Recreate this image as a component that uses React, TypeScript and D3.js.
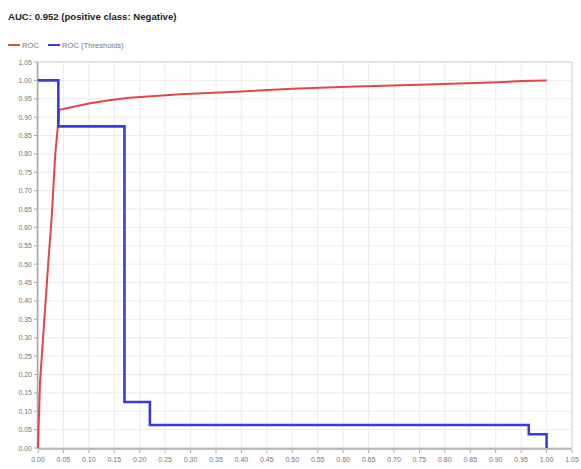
import React from "react";
import * as d3 from "d3";

const rocX = [0, 0.004, 0.008, 0.02, 0.027, 0.034, 0.042, 0.07, 0.1, 0.14, 0.18, 0.28, 0.4, 0.5, 0.61, 0.75, 0.89, 0.95, 1.0];
const rocY = [0, 0.18, 0.26, 0.5, 0.63, 0.8, 0.92, 0.928, 0.937, 0.946, 0.953, 0.962, 0.97, 0.977, 0.983, 0.988, 0.994, 0.998, 1.0];
const thrX = [0, 0.04, 0.17, 0.22, 0.965, 1.0];
const thrY = [1.0, 0.875, 0.125, 0.0625, 0.0375, 0];
const seriesNames = ["ROC", "ROC (Thresholds)"];
const title = "AUC: 0.952 (positive class: Negative)";
const ticks = d3.range(0, 22).map((i) => +(i * 0.05).toFixed(2));

const W = 581, H = 469;
const L = 38, R = 572, T = 62, B = 448;

export default function App() {
  const x = d3.scaleLinear().domain([0, 1.05]).range([L, R]);
  const y = d3.scaleLinear().domain([0, 1.05]).range([B, T]);
  const fmt = d3.format(".2f");
  const rocLine = d3.line<number>().x((d) => x(rocX[d])).y((d) => y(rocY[d]));
  const thrLine = d3
    .line<number>()
    .x((d) => x(thrX[d]))
    .y((d) => y(thrY[d]))
    .curve(d3.curveStepAfter);
  const red = "#e64545";
  const blue = "#3b3bdc";
  const txt = "#777";
  return (
    <svg width={W} height={H} style={{ position: "absolute", left: 0, top: 0, background: "#fff" }}
      fontFamily="Liberation Sans, Arial, sans-serif">
      <text x={8} y={20} fontSize={9.6} fontWeight="bold" fill="#222">{title}</text>
      <line x1={8} x2={20} y1={45} y2={45} stroke={red} strokeWidth={2} />
      <text x={22} y={47.5} fontSize={7.6} fill={txt}>{seriesNames[0]}</text>
      <line x1={48} x2={60} y1={45} y2={45} stroke={blue} strokeWidth={2} />
      <text x={62} y={47.5} fontSize={7.6} fill={txt}>{seriesNames[1]}</text>
      {ticks.map((t) => (
        <g key={"g" + t}>
          <line x1={x(t)} x2={x(t)} y1={T} y2={B} stroke="#ececec" strokeWidth={1} />
          <line x1={L} x2={R} y1={y(t)} y2={y(t)} stroke="#ececec" strokeWidth={1} />
        </g>
      ))}
      <rect x={L} y={T} width={R - L} height={B - T} fill="none" stroke="#d4d4d4" strokeWidth={1} />
      <line x1={L - 0.5} x2={L - 0.5} y1={T} y2={B + 1} stroke="#aaa" strokeWidth={1.5} />
      <line x1={L} x2={R} y1={B + 1} y2={B + 1} stroke="#aaa" strokeWidth={1.5} />
      {ticks.map((t) => (
        <g key={"t" + t}>
          <line x1={L - 4} x2={L - 1} y1={y(t)} y2={y(t)} stroke="#aaa" />
          <text x={L - 6} y={y(t) + 2.5} fontSize={7} fill={txt} textAnchor="end">{fmt(t)}</text>
          <line x1={x(t)} x2={x(t)} y1={B + 2} y2={B + 5} stroke="#aaa" />
          <text x={x(t)} y={B + 14} fontSize={7} fill={txt} textAnchor="middle">{fmt(t)}</text>
        </g>
      ))}
      <path d={rocLine(d3.range(rocX.length)) || ""} fill="none" stroke={red} strokeWidth={2} />
      <path d={thrLine(d3.range(thrX.length)) || ""} fill="none" stroke={blue} strokeWidth={2.6} />
    </svg>
  );
}
